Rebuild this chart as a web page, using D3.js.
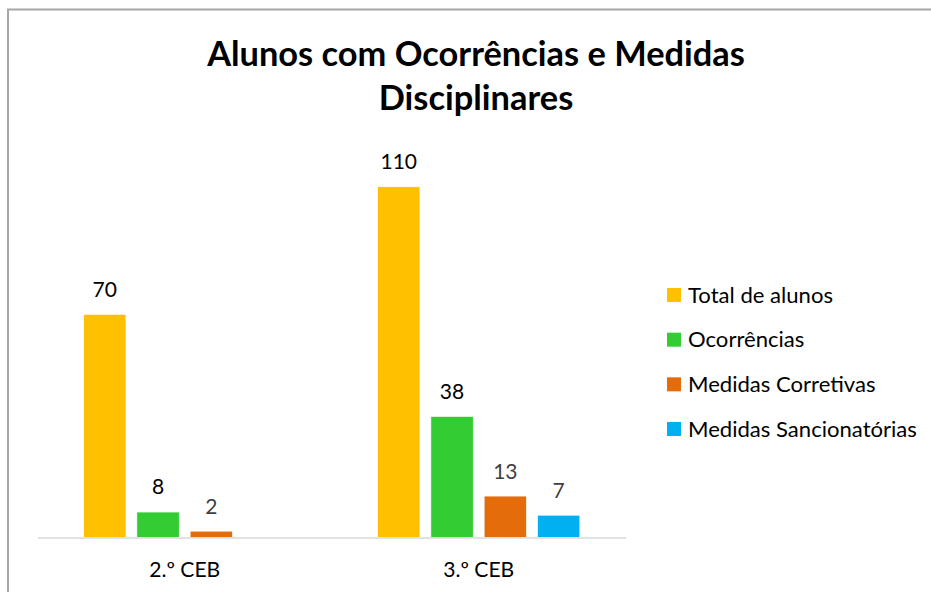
<!DOCTYPE html>
<html>
<head>
<meta charset="utf-8">
<script src="https://cdn.jsdelivr.net/npm/d3@7"></script>
<style>
  html, body { margin: 0; padding: 0; background: #fff; }
  svg { display: block; }
  text { font-family: Lato, "Open Sans", sans-serif; }
</style>
</head>
<body>
<svg id="chart" width="931" height="592"></svg>
<script>
// ---- data ----
const titleLines = ["Alunos com Ocorrências e Medidas", "Disciplinares"];
const categories = ["2.º CEB", "3.º CEB"];
const seriesNames = ["Total de alunos", "Ocorrências", "Medidas Corretivas", "Medidas Sancionatórias"];
const totalAlunos = [70, 110];
const ocorrencias = [8, 38];
const medidasCorretivas = [2, 13];
const medidasSancionatorias = [null, 7];
const seriesValues = [totalAlunos, ocorrencias, medidasCorretivas, medidasSancionatorias];

// ---- style ----
const seriesColors = ["#FFC000", "#33CC33", "#E46C0A", "#00B0F0"];
const labelColors = ["#000000", "#000000", "#404040", "#404040"];

const svg = d3.select("#chart");

// chart border
svg.append("rect")
  .attr("x", 8).attr("y", 9.5)
  .attr("width", 940).attr("height", 600)
  .attr("fill", "#fff")
  .attr("stroke", "#a6a6a6").attr("stroke-width", 2);

function fitSize(sel, target, base) {
  sel.style("font-size", base + "px");
  const len = sel.node().getComputedTextLength();
  const size = base * target / len;
  sel.style("font-size", size + "px");
  return size;
}

// title
const t1 = svg.append("text").attr("x", 476).attr("y", 66)
  .attr("text-anchor", "middle").attr("font-weight", "bold").attr("fill", "#000")
  .text(titleLines[0]);
const tSize = fitSize(t1, 538, 32);
svg.append("text").attr("x", 476).attr("y", 110)
  .attr("text-anchor", "middle").attr("font-weight", "bold").attr("fill", "#000")
  .style("font-size", tSize + "px")
  .text(titleLines[1]);

// scales
const x0 = d3.scaleBand().domain(categories).range([37.7, 625.7]).padding(0);
const x1 = d3.scaleBand().domain(seriesNames).range([0, x0.bandwidth()])
  .paddingInner(0.203).paddingOuter(0.86);
const y = d3.scaleLinear().domain([0, 120]).range([537.5, 537.5 - 120 * 3.189]);

// bars
const groups = svg.append("g").selectAll("g")
  .data(categories).join("g")
  .attr("transform", d => `translate(${x0(d)},0)`);

const cells = groups.selectAll("g.cell")
  .data((c, ci) => seriesNames.map((s, si) => ({ s, si, v: seriesValues[si][ci] }))
    .filter(d => d.v !== null && d.v !== undefined))
  .join("g").attr("class", "cell");

cells.append("rect")
  .attr("x", d => x1(d.s))
  .attr("width", x1.bandwidth())
  .attr("y", d => y(d.v))
  .attr("height", d => y(0) - y(d.v))
  .attr("fill", d => seriesColors[d.si])
  .attr("stroke", "#ffffff").attr("stroke-width", 0.75);

// data labels
const probe = svg.append("text").text("70");
const labelSize = fitSize(probe, 24.4, 20);
probe.remove();
cells.append("text")
  .attr("x", d => x1(d.s) + x1.bandwidth() / 2)
  .attr("y", d => y(d.v) - 17.5)
  .attr("text-anchor", "middle")
  .attr("fill", d => labelColors[d.si])
  .style("font-size", labelSize + "px")
  .text(d => d.v);

// x axis
const xAxis = svg.append("g").attr("transform", `translate(0,${y(0)})`)
  .call(d3.axisBottom(x0).tickSize(0).tickPadding(0));
xAxis.attr("font-family", null);
xAxis.select(".domain").attr("stroke", "#d9d9d9").attr("stroke-width", 1.5);
xAxis.selectAll(".tick text")
  .attr("y", 576.7 - y(0)).attr("dy", 0)
  .attr("fill", "#000");
const catProbe = xAxis.select(".tick text");
const catSize = fitSize(catProbe, 71, 20);
xAxis.selectAll(".tick text").style("font-size", catSize + "px");

// legend
const legend = svg.append("g");
const legendY = d3.scalePoint().domain(seriesNames).range([295, 429]);
const items = legend.selectAll("g").data(seriesNames).join("g")
  .attr("transform", d => `translate(667,${legendY(d)})`);
items.append("rect").attr("x", 0).attr("y", -7).attr("width", 14).attr("height", 14)
  .attr("fill", (d, i) => seriesColors[i]);
const legTexts = items.append("text").attr("x", 21).attr("y", 7.5)
  .attr("fill", "#000").text(d => d);
const legSize = fitSize(legTexts.filter((d, i) => i === 3), 229, 20);
legTexts.style("font-size", legSize + "px");
</script>
</body>
</html>
